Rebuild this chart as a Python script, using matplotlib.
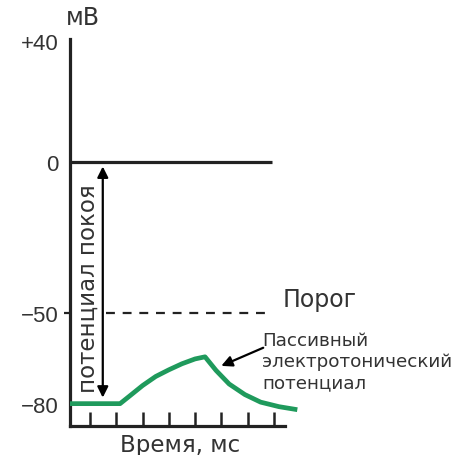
import matplotlib.pyplot as plt

plt.rcParams['font.family'] = ['Liberation Sans', 'DejaVu Sans']

# ── данные ─────────────────────────────────────────
y_ticks = [40, 0, -50, -80]
y_labels = ['+40', '0', '\u221250', '\u221280']
x_ticks = [1, 2, 3, 4, 5, 6, 7, 8]

rest_mv = -80
threshold_mv = -50
zero_mv = 0

# пассивный электротонический потенциал
t = [0.23, 2.14, 2.5, 3.0, 3.5, 4.0, 4.5, 5.0, 5.38, 5.8, 6.3, 6.9, 7.5, 8.2, 8.9]
v = [-80, -80, -77.5, -74, -71, -68.8, -66.8, -65.2, -64.5, -69, -73.5, -77, -79.5, -81, -82]

fig = plt.figure(figsize=(4.58, 4.56), dpi=100)
W, H = 458, 456
ax = fig.add_axes([70 / W, (H - 427) / H, (285 - 70) / W, (427 - 40) / H])
ax.set_xlim(0.23, 8.43)
ax.set_ylim(-87.4, 40.7)

dark = '#222222'
txt = '#333333'
wide = ['DejaVu Sans']

for s in ['top', 'right']:
    ax.spines[s].set_visible(False)
for s in ['left', 'bottom']:
    ax.spines[s].set_linewidth(2.3)
    ax.spines[s].set_color(dark)

ax.set_xticks(x_ticks)
ax.set_xticklabels([])
ax.tick_params(axis='x', direction='in', length=10, width=1.8, color=dark)
ax.set_yticks(y_ticks)
ax.set_yticklabels(y_labels, fontsize=16, color=txt)
ax.tick_params(axis='y', length=0, pad=8, width=1.6, color=dark)
# маленькая засечка только у порога
thr_tick = ax.yaxis.get_major_ticks()[y_ticks.index(threshold_mv)]
thr_tick.tick1line.set_markersize(4)

# нулевая линия и порог
ax.plot([0.23, 7.94], [zero_mv, zero_mv], color=dark, lw=2.3, solid_capstyle='butt')
ax.plot([1.6, 7.8], [threshold_mv, threshold_mv], color=dark, lw=1.6,
        dashes=(4, 3.5))

# кривая
ax.plot(t, v, color='#1f9a5c', lw=3.4, clip_on=False, solid_capstyle='butt',
        solid_joinstyle='round', zorder=5)

# потенциал покоя
ax.annotate('', xy=(1.48, zero_mv - 1.5), xytext=(1.48, rest_mv + 2),
            arrowprops=dict(arrowstyle='<|-|>', color='black', lw=1.6,
                            mutation_scale=16, shrinkA=0, shrinkB=0))
ax.text(0.92, -41.7, 'потенциал покоя', rotation=90, family=wide,
        fontsize=16.5, color=txt, ha='center', va='center')

# подписи
ax.text(8.33, threshold_mv + 4.6, 'Порог', fontsize=17, color=txt, family=wide,
        ha='left', va='center', clip_on=False)
ax.text(7.56, -65.9, 'Пассивный\nэлектротонический\nпотенциал', fontsize=13.2,
        family=wide, color=txt, ha='left', va='center', linespacing=1.2,
        clip_on=False)
ax.annotate('', xy=(6.0, -67.5), xytext=(7.6, -61.5),
            arrowprops=dict(arrowstyle='-|>', color='black', lw=1.6,
                            mutation_scale=16, shrinkA=0, shrinkB=0))

fig.text(83 / W, 1 - 18 / H, 'мВ', fontsize=17, color=txt, family=wide,
         ha='center', va='center')
fig.text(180 / W, 1 - 446 / H, 'Время, мс', fontsize=16.5, color=txt, family=wide,
         ha='center', va='center')

fig.savefig('out.png', dpi=100)
